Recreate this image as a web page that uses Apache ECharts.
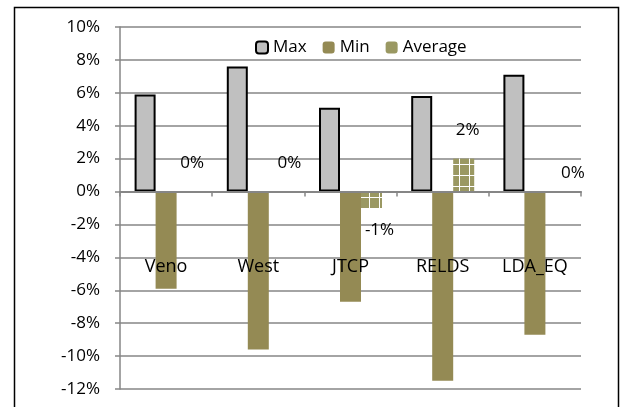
<!DOCTYPE html>
<html>
<head>
<meta charset="utf-8">
<script src="https://cdn.jsdelivr.net/npm/echarts@6/dist/echarts.min.js"></script>
<style>
  html, body { margin: 0; padding: 0; background: #fff; }
  #chart { width: 622px; height: 407px; }
</style>
</head>
<body>
<div id="chart"></div>
<script>
// Return spread per model (in %)
const categories = ['Veno', 'West', 'JTCP', 'RELDS', 'LDA_EQ'];
const maxValues = [5.9, 7.6, 5.1, 5.8, 7.1];
const minValues = [-5.9, -9.6, -6.7, -11.5, -8.7];
const averageValues = [0, 0, -1, 2, 0];
const yTicks = { min: -12, max: 10, step: 2 };

// Label placement tweaks for the Average values
const avgLabelTweaks = [
  { position: 'top', distance: 20, offset: [5, 0] },
  { position: 'top', distance: 20, offset: [10, 0] },
  { position: 'bottom', distance: 14, offset: [8, 0] },
  { position: 'top', distance: 20, offset: [4, 0] },
  { position: 'top', distance: 10, offset: [17, 0] }
];

const FONT = 'Open Sans';

// Olive fill crossed by thin white lines for the Average bars
function gridPattern() {
  const c = document.createElement('canvas');
  c.width = 10; c.height = 11;
  const g = c.getContext('2d');
  g.fillStyle = '#9a9862';
  g.fillRect(0, 0, 10, 11);
  g.fillStyle = '#ffffff';
  g.fillRect(9, 0, 1, 11);
  g.fillRect(0, 10, 10, 1);
  return c;
}

const chart = echarts.init(document.getElementById('chart'), null, { renderer: 'canvas' });

const avgData = averageValues.map((v, i) => ({
  value: v,
  label: avgLabelTweaks[i]
}));

chart.setOption({
  animation: false,
  backgroundColor: '#ffffff',
  textStyle: { fontFamily: FONT },
  graphic: [{
    type: 'rect',
    shape: { x: 14.5, y: 7.5, width: 604, height: 420 },
    style: { fill: 'none', stroke: '#000', lineWidth: 1.5 },
    z: 100,
    silent: true
  }],
  legend: {
    left: 250,
    top: 34,
    itemWidth: 12,
    itemHeight: 12,
    itemGap: 16,
    textStyle: { fontSize: 17, color: '#000', fontFamily: FONT },
    data: [
      { name: 'Max' },
      { name: 'Min' },
      { name: 'Average', itemStyle: { color: '#9a9862' } }
    ]
  },
  grid: { left: 120, right: 41, top: 27, bottom: 18, containLabel: false, outerBoundsMode: 'none' },
  xAxis: {
    type: 'category',
    data: categories,
    z: 10,
    axisLine: { onZero: true, lineStyle: { color: '#868686', width: 2 } },
    axisTick: { show: true, length: 5, lineStyle: { color: '#868686', width: 1.5 } },
    // category names sit inside the plot, over the Min bars
    axisLabel: { margin: -131, fontSize: 18, color: '#000', fontFamily: FONT, hideOverlap: false },
    splitLine: { show: false }
  },
  yAxis: {
    type: 'value',
    min: yTicks.min,
    max: yTicks.max,
    interval: yTicks.step,
    axisLine: { show: true, lineStyle: { color: '#868686', width: 1.5 } },
    axisTick: { show: true, length: 5, lineStyle: { color: '#868686', width: 1.5 } },
    axisLabel: { margin: 20, fontSize: 17, color: '#000', fontFamily: FONT, formatter: '{value}%' },
    splitLine: { show: true, lineStyle: { color: '#868686', width: 1.5 } }
  },
  series: [
    {
      name: 'Max',
      type: 'bar',
      data: maxValues,
      barWidth: 21,
      barGap: '0%',
      itemStyle: { color: '#c0c0c0', borderColor: '#000', borderWidth: 2 }
    },
    {
      name: 'Min',
      type: 'bar',
      data: minValues,
      barWidth: 21,
      barGap: '0%',
      itemStyle: { color: '#948a54' }
    },
    {
      name: 'Average',
      type: 'bar',
      data: avgData,
      barWidth: 21,
      barGap: '0%',
      itemStyle: { color: { image: gridPattern(), repeat: 'repeat' } },
      label: {
        show: true,
        fontSize: 17,
        color: '#000',
        fontFamily: FONT,
        formatter: p => Math.round(p.value) + '%'
      }
    }
  ]
});
</script>
</body>
</html>
